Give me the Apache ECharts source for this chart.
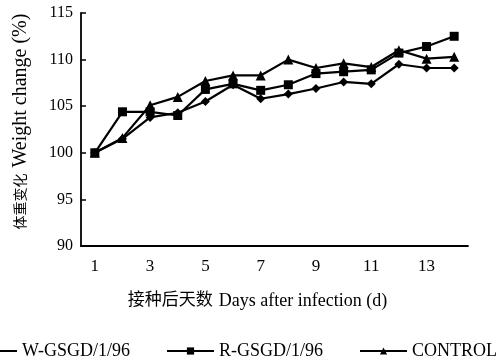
<!DOCTYPE html>
<html><head><meta charset="utf-8">
<script src="https://cdn.jsdelivr.net/npm/echarts@6/dist/echarts.min.js"></script>
<style>html,body{margin:0;padding:0;background:#fff}#c{width:502px;height:361px}</style>
</head><body><div id="c"></div>
<script>
var days = ['1','2','3','4','5','6','7','8','9','10','11','12','13','14'];
var wGSGD = [100,101.5,103.8,104.3,105.5,107.3,105.8,106.3,106.9,107.6,107.4,109.5,109.1,109.1];
var rGSGD = [100,104.4,104.4,104.0,106.8,107.4,106.7,107.3,108.5,108.7,108.9,110.7,111.4,112.5];
var control = [100,101.6,105.1,106.0,107.7,108.3,108.3,110.0,109.1,109.6,109.2,111.0,110.1,110.3];
var seriesNames = ['W-GSGD/1/96','R-GSGD/1/96','CONTROL'];
var yTicks = {min:90, max:115, interval:5};

var FONT = '"Liberation Serif","Noto Sans CJK SC",serif';
var chart = echarts.init(document.getElementById('c'));
function mk(name, data, sym, size){
  return {name:name, type:'line', data:data, symbol:sym, symbolSize:size,
    lineStyle:{color:'#000', width:2.2}, itemStyle:{color:'#000'}, animation:false};
}
chart.setOption({
  animation:false,
  textStyle:{fontFamily:FONT, color:'#000'},
  grid:{left:81, right:34, top:13, bottom:115},
  legend:{top:337, left:-36, width:700, itemWidth:47, itemHeight:9, itemGap:36,
    textStyle:{fontFamily:FONT, fontSize:18, color:'#000'},
    data:seriesNames},
  xAxis:{type:'category', data:days, boundaryGap:true,
    name:'{c|接种后天数}  {e|Days after infection (d)}', nameLocation:'middle', nameGap:46,
    nameTextStyle:{fontFamily:FONT, color:'#000', padding:[0,34,0,0],
      rich:{c:{fontFamily:FONT, fontSize:17, color:'#000'}, e:{fontFamily:FONT, fontSize:18, color:'#000'}}},
    axisLine:{lineStyle:{color:'#000', width:1.8}},
    axisTick:{inside:true, length:5, interval:0, lineStyle:{color:'#000', width:1.5}},
    axisLabel:{interval:1, margin:12, fontFamily:FONT, fontSize:17, color:'#000'},
    splitLine:{show:false}},
  yAxis:{type:'value', min:yTicks.min, max:yTicks.max, interval:yTicks.interval,
    name:'{c|体重变化}  {e|Weight change (%)}', nameLocation:'middle', nameGap:50,
    nameTextStyle:{fontFamily:FONT, color:'#000', padding:[0,0,0,16],
      rich:{c:{fontFamily:FONT, fontSize:14, color:'#000'}, e:{fontFamily:FONT, fontSize:20, color:'#000'}}},
    axisLine:{show:true, lineStyle:{color:'#000', width:1.8}},
    axisTick:{show:true, inside:true, length:5, lineStyle:{color:'#000', width:1.5}},
    axisLabel:{margin:8, fontFamily:FONT, fontSize:16, color:'#000'},
    splitLine:{show:false}},
  series:[mk(seriesNames[0], wGSGD, 'diamond', 9),
          mk(seriesNames[1], rGSGD, 'rect', 9),
          mk(seriesNames[2], control, 'triangle', 10)]
});
</script></body></html>
